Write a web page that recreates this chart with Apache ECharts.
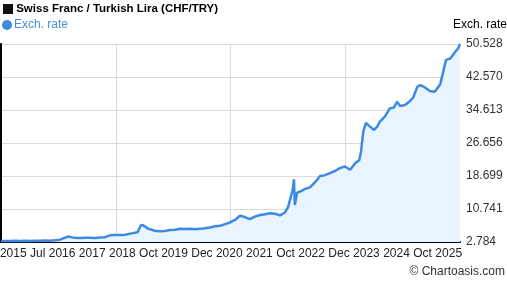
<!DOCTYPE html>
<html>
<head>
<meta charset="utf-8">
<script src="https://cdn.jsdelivr.net/npm/echarts@6/dist/echarts.min.js"></script>
<style>
  html, body { margin: 0; padding: 0; background: #fff; }
  #chart { width: 507px; height: 288px; }
</style>
</head>
<body>
<div id="chart"></div>
<script>
// CHF/TRY exchange rate (decimal year, rate)
const dates = [
  2015.45, 2015.54, 2015.65, 2015.76, 2015.87, 2015.98, 2016.09, 2016.21, 2016.32, 2016.43,
  2016.54, 2016.65, 2016.76, 2016.87, 2016.94, 2017.03, 2017.09, 2017.21, 2017.32, 2017.43,
  2017.54, 2017.65, 2017.76, 2017.87, 2017.98, 2018.09, 2018.21, 2018.32, 2018.43, 2018.49,
  2018.56, 2018.61, 2018.65, 2018.72, 2018.76, 2018.87, 2018.98, 2019.09, 2019.21, 2019.32,
  2019.43, 2019.54, 2019.65, 2019.76, 2019.87, 2019.98, 2020.09, 2020.21, 2020.32, 2020.43,
  2020.54, 2020.65, 2020.76, 2020.87, 2020.98, 2021.09, 2021.21, 2021.32, 2021.43, 2021.54,
  2021.65, 2021.76, 2021.83, 2021.87, 2021.92, 2021.94, 2021.96, 2021.98, 2022.03, 2022.09,
  2022.21, 2022.32, 2022.43, 2022.54, 2022.65, 2022.76, 2022.87, 2022.98, 2023.09, 2023.21,
  2023.32, 2023.41, 2023.45, 2023.50, 2023.56, 2023.65, 2023.74, 2023.81, 2023.87, 2023.98,
  2024.09, 2024.18, 2024.25, 2024.32, 2024.43, 2024.54, 2024.61, 2024.70, 2024.77, 2024.88,
  2024.98, 2025.09, 2025.21, 2025.27, 2025.34, 2025.43, 2025.52, 2025.61, 2025.65
];
const rates = [
  3.0, 3.05, 3.0, 3.1, 3.05, 3.1, 3.05, 3.1, 3.1, 3.15,
  3.1, 3.2, 3.35, 3.8, 4.1, 3.9, 3.8, 3.75, 3.8, 3.8,
  3.75, 3.85, 3.95, 4.4, 4.5, 4.45, 4.55, 4.8, 5.0, 5.2,
  6.9, 6.8, 6.5, 6.0, 5.7, 5.5, 5.4, 5.45, 5.7, 5.75,
  6.0, 5.9, 5.95, 5.85, 5.95, 6.1, 6.3, 6.6, 6.7, 7.1,
  7.5, 8.1, 9.1, 8.8, 8.3, 8.9, 9.3, 9.5, 9.7, 9.6,
  9.2, 9.9, 11.2, 12.9, 14.9, 16.0, 17.9, 11.7, 14.7, 14.9,
  15.6, 16.0, 17.2, 18.7, 18.9, 19.4, 19.9, 20.6, 21.0, 20.2,
  21.8, 22.5, 24.5, 29.4, 31.5, 30.6, 29.8, 30.6, 31.8, 33.0,
  35.0, 35.2, 36.6, 35.6, 35.8, 36.8, 37.6, 40.2, 40.6, 40.0,
  39.2, 39.0, 40.8, 43.5, 46.7, 47.0, 48.3, 49.5, 50.5
];

// bottom axis labels and where they sit (decimal year)
const xLabels = ['2015', 'Jul', '2016', '2017', '2018', 'Oct', '2019', 'Dec', '2020',
  '2021', 'Oct', '2022', 'Dec', '2023', '2024', 'Oct', '2025'];
const xLabelPos = [2015.723, 2016.266, 2016.808, 2017.477, 2018.146, 2018.726, 2019.306,
  2019.914, 2020.523, 2021.192, 2021.772, 2022.352, 2022.961, 2023.570, 2024.239,
  2024.819, 2025.399];

const yTickLabels = ['2.784', '10.741', '18.699', '26.656', '34.613', '42.570', '50.528'];

const xStart = 2015.45, xEnd = 2025.65;
const yBase = 2.784, yStep = 7.957333;
const font = '"Liberation Sans", Arial, sans-serif';
const lineColor = '#3d8ae3';

const seriesData = dates.map((d, i) => [+(d - xStart).toFixed(3), +(rates[i] - yBase).toFixed(3)]);
const labelVals = xLabelPos.map(p => +(p - xStart).toFixed(3));
const xMax = +(xEnd - xStart).toFixed(3);
const yMax = +(yStep * 6).toFixed(3);

const chart = echarts.init(document.getElementById('chart'));
chart.setOption({
  animation: false,
  textStyle: { fontFamily: font },
  title: [
    {
      text: '{sq|} Swiss Franc / Turkish Lira (CHF/TRY)',
      left: 3, top: 3, padding: 0,
      textStyle: {
        fontSize: 11.5, fontWeight: 'bold', color: '#000', fontFamily: font,
        rich: { sq: { width: 10, height: 10, backgroundColor: '#111' } }
      }
    },
    {
      // axis caption above the right-hand scale
      text: 'Exch. rate',
      left: 453, top: 19, padding: 0,
      textStyle: { fontSize: 12, fontWeight: 'normal', color: '#000', fontFamily: font }
    },
    {
      text: '© Chartoasis.com',
      right: 2, top: 266, padding: 0,
      textStyle: { fontSize: 12, fontWeight: 'normal', color: '#333', fontFamily: font }
    }
  ],
  legend: {
    data: ['Exch. rate'],
    left: 2, top: 19, padding: 0,
    icon: 'circle', itemWidth: 10, itemHeight: 10, itemGap: 0,
    textStyle: { color: '#4a90e2', fontSize: 12, fontFamily: font, padding: [0, 0, 0, -3] }
  },
  grid: { left: 1, right: 47, top: 44, bottom: 46, outerBoundsMode: 'none' },
  xAxis: [
    {
      type: 'value', min: 0, max: xMax, interval: 2.55,
      axisLine: { show: true, lineStyle: { color: '#000', width: 2 } },
      axisTick: { show: false },
      axisLabel: { show: false },
      splitLine: { show: true, showMinLine: false, showMaxLine: false, lineStyle: { color: '#d9d9d9', width: 1 } }
    },
    {
      type: 'value', min: 0, max: xMax, position: 'bottom',
      axisLine: { show: false }, axisTick: { show: false }, splitLine: { show: false },
      axisLabel: {
        customValues: labelVals,
        margin: 6, fontSize: 12, color: '#222', fontFamily: font,
        formatter: v => {
          let best = 0;
          labelVals.forEach((p, i) => { if (Math.abs(p - v) < Math.abs(labelVals[best] - v)) best = i; });
          return xLabels[best];
        }
      }
    }
  ],
  yAxis: [
    {
      type: 'value', position: 'right', min: 0, max: yMax, interval: yStep,
      axisLine: { show: true, lineStyle: { color: '#000', width: 1 } },
      axisTick: { show: false },
      axisLabel: {
        margin: 6, fontSize: 12, color: '#333', fontFamily: font,
        formatter: v => yTickLabels[Math.round(v / yStep)] || ''
      },
      splitLine: { show: true, showMinLine: false, showMaxLine: false, lineStyle: { color: '#d9d9d9', width: 1 } }
    },
    {
      type: 'value', position: 'left', min: 0, max: yMax,
      axisLine: { show: true, lineStyle: { color: '#000', width: 2 } },
      axisTick: { show: false }, axisLabel: { show: false }, splitLine: { show: false }
    }
  ],
  series: [
    {
      name: 'Exch. rate',
      type: 'line',
      xAxisIndex: 0, yAxisIndex: 0,
      showSymbol: false,
      itemStyle: { color: lineColor },
      lineStyle: { color: lineColor, width: 2.5 },
      areaStyle: { color: '#eaf4fe', opacity: 1 },
      data: seriesData
    }
  ]
});
</script>
</body>
</html>
